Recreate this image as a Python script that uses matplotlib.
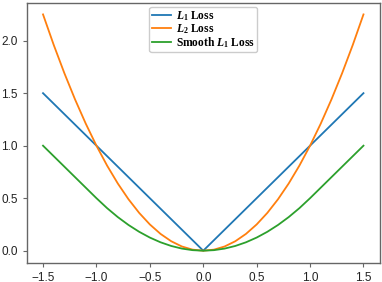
import matplotlib
matplotlib.use("Agg")
import matplotlib.pyplot as plt

x = [-1.5, -1.4, -1.3, -1.2, -1.1, -1.0, -0.9, -0.8, -0.7, -0.6, -0.5, -0.4, -0.3, -0.2, -0.1, 0.0,
     0.1, 0.2, 0.3, 0.4, 0.5, 0.6, 0.7, 0.8, 0.9, 1.0, 1.1, 1.2, 1.3, 1.4, 1.5]
l1_loss = [1.5, 1.4, 1.3, 1.2, 1.1, 1.0, 0.9, 0.8, 0.7, 0.6, 0.5, 0.4, 0.3, 0.2, 0.1, 0.0,
           0.1, 0.2, 0.3, 0.4, 0.5, 0.6, 0.7, 0.8, 0.9, 1.0, 1.1, 1.2, 1.3, 1.4, 1.5]
l2_loss = [2.25, 1.96, 1.69, 1.44, 1.21, 1.0, 0.81, 0.64, 0.49, 0.36, 0.25, 0.16, 0.09, 0.04, 0.01, 0.0,
           0.01, 0.04, 0.09, 0.16, 0.25, 0.36, 0.49, 0.64, 0.81, 1.0, 1.21, 1.44, 1.69, 1.96, 2.25]
smooth_l1_loss = [1.0, 0.9, 0.8, 0.7, 0.6, 0.5, 0.405, 0.32, 0.245, 0.18, 0.125, 0.08, 0.045, 0.02, 0.005, 0.0,
                  0.005, 0.02, 0.045, 0.08, 0.125, 0.18, 0.245, 0.32, 0.405, 0.5, 0.6, 0.7, 0.8, 0.9, 1.0]
labels = [r"$\it{L}_{\rm 1}$ Loss", r"$\it{L}_{\rm 2}$ Loss", r"Smooth $\it{L}_{\rm 1}$ Loss"]

plt.rcParams['mathtext.fontset'] = 'custom'
plt.rcParams['mathtext.it'] = 'Liberation Serif:italic:bold'
plt.rcParams['mathtext.rm'] = 'Liberation Serif:bold'
plt.rcParams['mathtext.bf'] = 'Liberation Serif:bold'

fig = plt.figure(figsize=(3.82, 2.82), dpi=100)
ax = fig.add_axes([27/382, 19.5/282, 352.5/382, 259.9/282])
ax.plot(x, l1_loss, color='#1f77b4', lw=1.3, label=labels[0])
ax.plot(x, l2_loss, color='#ff7f0e', lw=1.3, label=labels[1])
ax.plot(x, smooth_l1_loss, color='#2ca02c', lw=1.3, label=labels[2])

ax.set_xticks([-1.5, -1.0, -0.5, 0.0, 0.5, 1.0, 1.5])
ax.set_yticks([0.0, 0.5, 1.0, 1.5, 2.0])
for lab in ax.get_xticklabels() + ax.get_yticklabels():
    lab.set_fontfamily('Liberation Sans')
    lab.set_fontsize(8.5)
ax.tick_params(colors='#222222', length=3, width=0.8)
ax.tick_params(axis='both', color='#666666')
for s in ax.spines.values():
    s.set_color('#666666')
    s.set_linewidth(1.0)

leg = ax.legend(loc='upper center', prop={'family': 'Liberation Serif', 'weight': 'bold', 'size': 8.3},
                handlelength=1.7, labelspacing=-0.05, borderpad=0.2, handletextpad=0.4,
                borderaxespad=0.35, framealpha=1.0)
fig.savefig('out.png', dpi=100)
